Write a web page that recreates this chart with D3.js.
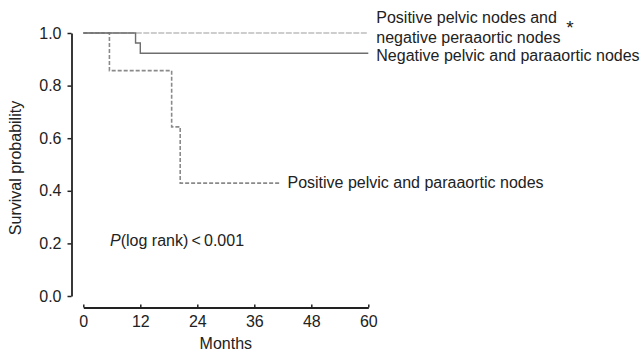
<!DOCTYPE html>
<html>
<head>
<meta charset="utf-8">
<script src="https://cdn.jsdelivr.net/npm/d3@7"></script>
<style>
  body { margin: 0; background: #fff; }
  text { font-family: "Liberation Sans", Arial, sans-serif; fill: #222; }
</style>
</head>
<body>
<script>
// Kaplan-Meier curves (months, survival probability)
const negTimes = [0, 11, 12, 60];
const negSurv = [1, 0.962, 0.923, 0.923];

const posPelvicTimes = [0, 60];
const posPelvicSurv = [1, 1];

const posBothTimes = [0, 5.5, 18.6, 20.4, 41.3];
const posBothSurv = [1, 0.857, 0.643, 0.429, 0.429];

const xTicks = [0, 12, 24, 36, 48, 60];
const yTicks = [0, 0.2, 0.4, 0.6, 0.8, 1.0];

const width = 641;
const height = 352;

const svg = d3.select('body')
    .append('svg')
    .attr('width', width)
    .attr('height', height);

const xScale = d3.scaleLinear().domain([0, 60]).range([83.3, 368.3]);
const yScale = d3.scaleLinear().domain([0, 1]).range([296, 33]);

const fontSize = 16;

// y axis
const yAxis = svg.append('g')
    .attr('transform', 'translate(71.5,0)')
    .call(d3.axisLeft(yScale).tickValues(yTicks).tickFormat(d3.format('.1f'))
        .tickSizeInner(4).tickSizeOuter(0).tickPadding(6));
yAxis.select('.domain').attr('stroke', '#222').attr('stroke-width', 1.8);
yAxis.selectAll('.tick line').attr('stroke', '#222').attr('stroke-width', 1.5);
yAxis.selectAll('.tick text').attr('font-size', fontSize).attr('font-family', null).attr('fill', '#222');

// x axis
const xAxis = svg.append('g')
    .attr('transform', 'translate(0,307.5)')
    .call(d3.axisBottom(xScale).tickValues(xTicks)
        .tickSizeInner(-3).tickSizeOuter(0).tickPadding(8));
xAxis.select('.domain').attr('stroke', '#222').attr('stroke-width', 1.8);
xAxis.selectAll('.tick line').attr('stroke', '#222').attr('stroke-width', 1.5);
xAxis.selectAll('.tick text').attr('font-size', fontSize).attr('font-family', null).attr('fill', '#222');

// axis titles
svg.append('text')
    .attr('x', (xScale.range()[0] + xScale.range()[1]) / 2)
    .attr('y', 343)
    .attr('text-anchor', 'middle')
    .attr('dominant-baseline', 'central')
    .attr('font-size', fontSize)
    .text('Months');

svg.append('text')
    .attr('transform', 'translate(15,168)rotate(-90)')
    .attr('text-anchor', 'middle')
    .attr('dominant-baseline', 'central')
    .attr('font-size', fontSize)
    .text('Survival probability');

// curves
const line = d3.line()
    .x((d) => xScale(d[0]))
    .y((d) => yScale(d[1]))
    .curve(d3.curveStepAfter);

const curves = [
    { t: posPelvicTimes, s: posPelvicSurv, color: '#bdbdbd', dash: '6,1.5', w: 1.6 },
    { t: posBothTimes, s: posBothSurv, color: '#8a8a8a', dash: '4,2', w: 1.6 },
    { t: negTimes, s: negSurv, color: '#6e6e6e', dash: null, w: 1.4 }
];

curves.forEach((c) => {
    svg.append('path')
        .datum(c.t.map((t, i) => [t, c.s[i]]))
        .attr('fill', 'none')
        .attr('stroke', c.color)
        .attr('stroke-width', c.w)
        .attr('stroke-dasharray', c.dash)
        .attr('d', line);
});

// curve labels
const labelX = xScale(60) + 8;
svg.append('text')
    .attr('x', labelX).attr('y', yScale(1) - 16)
    .attr('dominant-baseline', 'central')
    .attr('font-size', fontSize)
    .text('Positive pelvic nodes and');
svg.append('text')
    .attr('x', labelX).attr('y', yScale(1) + 4)
    .attr('dominant-baseline', 'central')
    .attr('font-size', fontSize)
    .text('negative peraaortic nodes');
svg.append('text')
    .attr('x', 570).attr('y', yScale(1) - 6)
    .attr('text-anchor', 'middle')
    .attr('dominant-baseline', 'central')
    .attr('font-size', 19)
    .text('*');
svg.append('text')
    .attr('x', labelX).attr('y', yScale(0.923) + 2)
    .attr('dominant-baseline', 'central')
    .attr('font-size', fontSize)
    .text('Negative pelvic and paraaortic nodes');
svg.append('text')
    .attr('x', xScale(41.3) + 8).attr('y', yScale(0.429) - 1)
    .attr('dominant-baseline', 'central')
    .attr('font-size', fontSize)
    .text('Positive pelvic and paraaortic nodes');

// log-rank annotation
const pText = svg.append('text')
    .attr('x', 110).attr('y', 240)
    .attr('dominant-baseline', 'central')
    .attr('font-size', fontSize);
pText.append('tspan').attr('font-style', 'italic').text('P');
pText.append('tspan').text('(log rank)\u2009<\u20090.001');
</script>
</body>
</html>
